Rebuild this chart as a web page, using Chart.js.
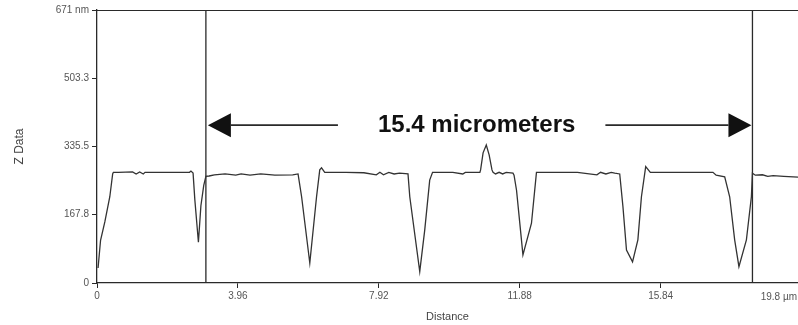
<!DOCTYPE html>
<html>
<head>
<meta charset="utf-8">
<script src="https://cdn.jsdelivr.net/npm/chart.js@4"></script>
<style>
  html, body { margin:0; padding:0; background:#fff; overflow:hidden; }
  #wrap { width:798px; height:325px; position:relative; }
</style>
</head>
<body>
<div id="wrap"><canvas id="profile"></canvas></div>
<script>
// ---------- Data ----------
const distance = [
  0.03, 0.10, 0.22, 0.36, 0.44, 0.46, 0.60, 1.00, 1.10, 1.20, 1.30, 1.35, 2.00, 2.60, 2.64, 2.70,
  2.75, 2.85, 2.92, 3.00, 3.06, 3.15, 3.30, 3.60, 3.90, 4.05, 4.30, 4.60, 5.00, 5.50, 5.65,
  5.75, 5.98, 6.17, 6.26, 6.31, 6.40, 7.00, 7.50, 7.85, 7.95, 8.05, 8.20, 8.35, 8.50, 8.74,
  8.79, 9.07, 9.21, 9.35, 9.43, 9.60, 10.00, 10.28, 10.35, 10.76, 10.78, 10.85, 10.94, 11.02, 11.10, 11.13,
  11.20, 11.30, 11.40, 11.50, 11.69, 11.72, 11.79, 11.97, 12.21, 12.35, 12.50, 13.00, 13.50, 14.05, 14.15,
  14.30, 14.45, 14.55, 14.69, 14.78, 14.88, 15.05, 15.20, 15.30, 15.42, 15.55, 16.00, 16.50, 17.00, 17.31,
  17.40, 17.64, 17.78, 17.92, 18.04, 18.25, 18.39, 18.42, 18.50, 18.70, 18.85, 19.00, 19.30, 19.70
];
const zData = [
  37, 105, 150, 212, 268, 272, 272, 273, 268, 273, 268, 272, 272, 272, 275, 270,
  204, 100, 190, 240, 262, 263, 266, 268, 265, 268, 265, 268, 265, 266, 268,
  212, 49, 212, 278, 283, 272, 272, 271, 266, 272, 266, 272, 268, 270, 268,
  212, 28, 130, 253, 272, 272, 272, 268, 272, 272, 278, 320, 339, 315, 278, 272,
  268, 272, 268, 272, 270, 265, 228, 69, 147, 272, 272, 272, 272, 266, 272,
  268, 272, 270, 268, 188, 81, 52, 106, 212, 286, 272, 272, 272, 272, 272,
  265, 261, 212, 106, 40, 106, 212, 270, 265, 266, 262, 264, 262, 260
];
const cursorPos = [3.06, 18.42];           // the two measuring cursors
const xTicks = [0, 3.96, 7.92, 11.88, 15.84];
const yTicks = [0, 167.8, 335.5, 503.3, 671];
const yLabels = ['0', '167.8', '335.5', '503.3', '671 nm'];
const xEndLabel = '19.8 µm';
const spanLabel = '15.4 micrometers';
const arrowZ = 388;

// ---------- Style ----------
const INK = '#2a2a2a';
const TICK_FONT = { family: "'Liberation Sans Narrow', 'Arial Narrow', 'Liberation Sans', sans-serif", size: 10 };

// Frame (top border) + arrow annotation + last x label
const annot = {
  id: 'annot',
  afterDatasetsDraw(chart) {
    const { ctx, chartArea: a, scales: { x, y } } = chart;
    ctx.save();
    // top border
    ctx.strokeStyle = INK; ctx.lineWidth = 1.2;
    ctx.beginPath(); ctx.moveTo(a.left, a.top + 0.5); ctx.lineTo(a.right, a.top + 0.5); ctx.stroke();

    // arrow
    const ay = y.getPixelForValue(arrowZ);
    const x1 = x.getPixelForValue(cursorPos[0]) + 2;
    const x2 = x.getPixelForValue(cursorPos[1]) - 1;
    const hw = 23, hh = 12;
    ctx.font = "bold 24px 'Liberation Sans', Arial, sans-serif";
    ctx.textAlign = 'center'; ctx.textBaseline = 'middle';
    const cx = (x1 + x2) / 2 - 3;
    const tw = ctx.measureText(spanLabel).width;
    ctx.fillStyle = '#111';
    ctx.fillText(spanLabel, cx, ay);
    ctx.lineWidth = 1.6;
    ctx.beginPath();
    ctx.moveTo(x1 + hw, ay); ctx.lineTo(cx - tw / 2 - 40, ay);
    ctx.moveTo(cx + tw / 2 + 30, ay); ctx.lineTo(x2 - hw, ay);
    ctx.stroke();
    ctx.beginPath();
    ctx.moveTo(x1, ay); ctx.lineTo(x1 + hw, ay - hh); ctx.lineTo(x1 + hw, ay + hh); ctx.closePath();
    ctx.moveTo(x2, ay); ctx.lineTo(x2 - hw, ay - hh); ctx.lineTo(x2 - hw, ay + hh); ctx.closePath();
    ctx.fill();

    // end label of the distance axis
    ctx.font = `${TICK_FONT.size}px ${TICK_FONT.family}`;
    ctx.fillStyle = '#555';
    ctx.textAlign = 'right'; ctx.textBaseline = 'top';
    ctx.fillText(xEndLabel, a.right - 1, a.bottom + 9);
    ctx.restore();
  }
};

const datasets = [{
  data: distance.map((d, i) => ({ x: d, y: zData[i] })),
  borderColor: '#333', borderWidth: 1.3, pointRadius: 0, tension: 0
}];
cursorPos.forEach(c => datasets.push({
  data: [{ x: c, y: 0 }, { x: c, y: yTicks[yTicks.length - 1] }],
  borderColor: INK, borderWidth: 1.3, pointRadius: 0
}));

new Chart(document.getElementById('profile'), {
  type: 'line',
  data: { datasets },
  options: {
    responsive: true, maintainAspectRatio: false, animation: false,
    layout: { padding: { top: 10, right: 0, left: 0, bottom: 0 } },
    plugins: { legend: { display: false }, tooltip: { enabled: false } },
    scales: {
      x: {
        type: 'linear', min: 0, max: 19.7,
        afterBuildTicks: s => { s.ticks = xTicks.map(v => ({ value: v })); },
        afterFit: s => { s.height = 42; },
        border: { color: INK, width: 1.3 },
        grid: { drawOnChartArea: false, color: INK, tickLength: 5 },
        ticks: { color: '#555', font: TICK_FONT, padding: 2, maxRotation: 0, autoSkip: false,
                 callback: v => String(v) },
        title: { display: true, text: 'Distance', color: '#444',
                 font: { family: "'Liberation Sans', Arial, sans-serif", size: 11 }, padding: { top: 4, bottom: 1 } }
      },
      y: {
        min: 0, max: 671,
        afterBuildTicks: s => { s.ticks = yTicks.map(v => ({ value: v })); },
        afterFit: s => { s.width = 97; },
        border: { color: INK, width: 1.3 },
        grid: { drawOnChartArea: false, color: INK, tickLength: 5 },
        ticks: { color: '#555', font: TICK_FONT, padding: 3,
                 callback: (v, i) => yLabels[i] },
        title: { display: true, text: 'Z Data', color: '#444',
                 font: { family: "'Liberation Sans', Arial, sans-serif", size: 12 }, padding: { top: 12, bottom: 10 } }
      }
    }
  },
  plugins: [annot]
});
</script>
</body>
</html>
